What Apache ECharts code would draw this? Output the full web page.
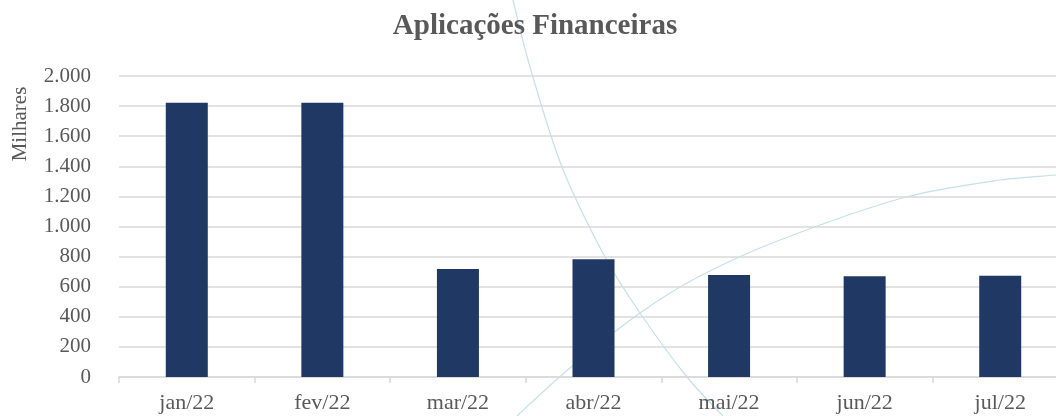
<!DOCTYPE html>
<html>
<head>
<meta charset="utf-8">
<script src="https://cdn.jsdelivr.net/npm/echarts@6/dist/echarts.min.js"></script>
<style>
html,body{margin:0;padding:0;background:#fff;overflow:hidden;width:1056px;height:416px;}
#chart{width:1068px;height:416px;}
</style>
</head>
<body>
<div id="chart"></div>
<script>
// ---- data ----
const categories = ['jan/22','fev/22','mar/22','abr/22','mai/22','jun/22','jul/22'];
const values = [1823, 1823, 718, 782, 678, 669, 673];
const yTicks = [0, 200, 400, 600, 800, 1000, 1200, 1400, 1600, 1800, 2000];
const titleText = 'Aplicações Financeiras';
const yAxisTitle = 'Milhares';
// decorative background curves (page decoration, not data)
const decorCurveA = [[513,0],[530,67],[562,167],[605,257],[640,313],[687,377],[723,416]];
const decorCurveB = [[517,416],[570,368],[640,313],[700,276],[780,240],[906,197],[1000,180],[1056,175],[1068,174]];

const FONT = '"Liberation Serif", serif';
const TXT = '#595959';

function fmt(v){ return v.toString().replace(/\B(?=(\d{3})+(?!\d))/g, '.'); }

const chart = echarts.init(document.getElementById('chart'), null, {renderer:'canvas'});
chart.setOption({
  animation: false,
  backgroundColor: '#ffffff',
  title: {
    text: titleText,
    left: 530, top: 7, textAlign: 'center',
    textStyle: {fontFamily: FONT, fontSize: 29, fontWeight: 'bold', color: TXT}
  },
  graphic: [
    {type:'polyline', z:-10, silent:true, shape:{points: decorCurveA, smooth: 0.3}, style:{stroke:'#c3e1ea', lineWidth:1.2, fill:null}},
    {type:'polyline', z:-10, silent:true, shape:{points: decorCurveB, smooth: 0.3}, style:{stroke:'#c3e1ea', lineWidth:1.2, fill:null}},
    {type:'text', x:20, y:124, rotation: Math.PI/2, silent:true,
     style:{text: yAxisTitle, font: '21px "Liberation Serif", serif', fill: TXT, textAlign:'center', textVerticalAlign:'middle'}}
  ],
  grid: {left: 119, top: 76, right: 0, bottom: 39, containLabel: false},
  xAxis: {
    type: 'category',
    data: categories,
    boundaryGap: true,
    axisLine: {show: true, lineStyle: {color: '#d9d9d9', width: 1.5}},
    axisTick: {show: true, length: 6, alignWithLabel: false, lineStyle: {color: '#d9d9d9', width: 1.5}},
    axisLabel: {fontFamily: FONT, fontSize: 22, color: TXT, margin: 15}
  },
  yAxis: {
    type: 'value',
    min: yTicks[0], max: yTicks[yTicks.length-1], interval: 200,
    axisLine: {show: false},
    axisTick: {show: false},
    splitLine: {show: true, lineStyle: {color: '#d9d9d9', width: 1.5}},
    axisLabel: {fontFamily: FONT, fontSize: 21, color: TXT, margin: 28, formatter: fmt}
  },
  series: [{
    type: 'bar',
    data: values,
    barWidth: 42,
    itemStyle: {color: '#203864'},
    z: 5
  }]
});
</script>
</body>
</html>
